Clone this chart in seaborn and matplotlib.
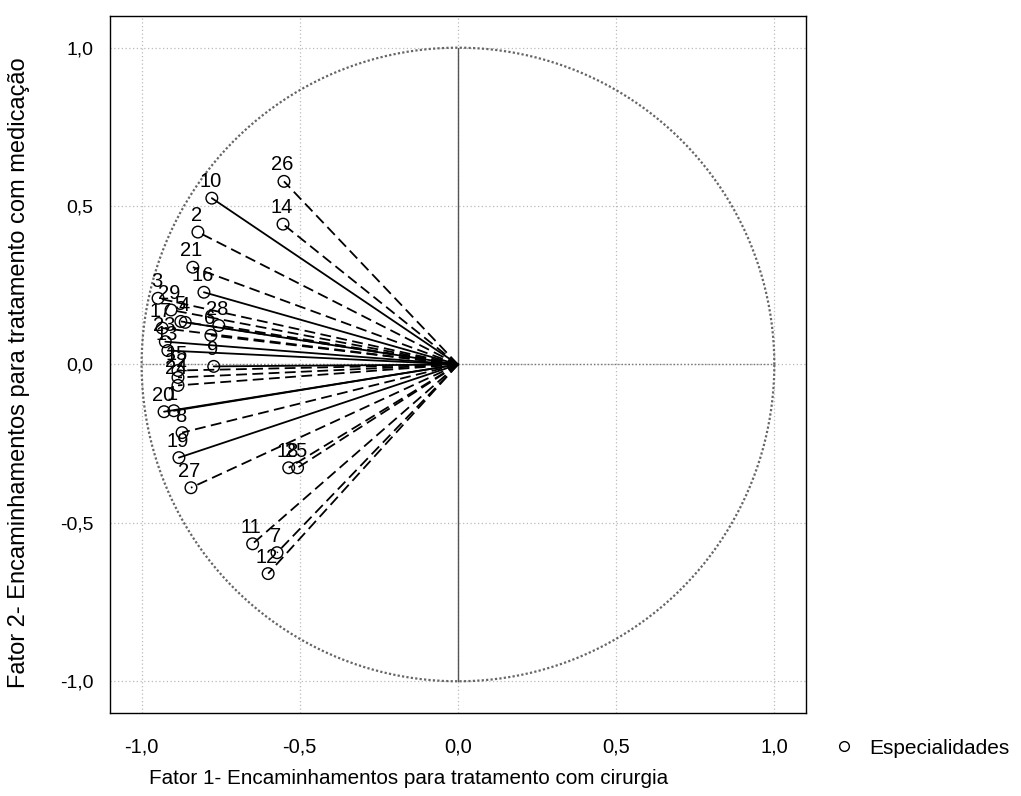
import matplotlib
matplotlib.use("Agg")
import matplotlib.pyplot as plt
import seaborn as sns
import numpy as np
import pandas as pd

# especialidades: coordenadas nos fatores 1 e 2
labels = ["1", "2", "3", "4", "5", "6", "7", "8", "9", "10",
          "11", "12", "13", "14", "15", "16", "17", "18", "19", "20",
          "21", "22", "23", "24", "25", "26", "27", "28", "29"]
fator1 = [-0.898, -0.822, -0.948, -0.862, -0.876, -0.781, -0.572, -0.872, -0.772, -0.778,
          -0.649, -0.600, -0.917, -0.553, -0.885, -0.803, -0.935, -0.535, -0.882, -0.929,
          -0.838, -0.885, -0.925, -0.885, -0.507, -0.550, -0.844, -0.756, -0.907]
fator2 = [-0.146, 0.418, 0.209, 0.133, 0.136, 0.092, -0.594, -0.215, -0.006, 0.525,
          -0.566, -0.660, 0.044, 0.443, -0.019, 0.228, 0.115, -0.326, -0.294, -0.149,
          0.307, -0.041, 0.072, -0.066, -0.326, 0.578, -0.389, 0.123, 0.172]
tracejado = [False, True, True, False, True, True, True, True, False, False,
             True, True, False, True, True, False, True, True, False, False,
             True, True, False, True, True, True, True, True, True]

ticks = [-1.0, -0.5, 0.0, 0.5, 1.0]
tick_labels = ["-1,0", "-0,5", "0,0", "0,5", "1,0"]

df = pd.DataFrame({"Fator 1": fator1, "Fator 2": fator2, "label": labels})

sns.set_style("white")
plt.rcParams["font.family"] = ["Liberation Sans", "DejaVu Sans"]
plt.rcParams["text.color"] = "black"
plt.rcParams["xtick.color"] = "black"
plt.rcParams["ytick.color"] = "black"

fig = plt.figure(figsize=(10.21, 7.96), dpi=100)
ax = fig.add_axes([0.1077, 0.1043, 0.6817, 0.8756])

# circulo unitario
t = np.linspace(0, 2 * np.pi, 400)
ax.plot(np.cos(t), np.sin(t), color="#666666", linestyle=(0, (1, 1)), linewidth=1.6, zorder=2)
ax.plot([0, 0], [-1, 1], color="#555555", linewidth=1.0, zorder=2)
ax.plot([-1, 1], [0, 0], color="#777777", linestyle=(0, (1, 1.5)), linewidth=1.0, zorder=2)

# vetores a partir da origem
for x, y, d in zip(fator1, fator2, tracejado):
    ax.plot([0, x], [0, y], color="black", linewidth=1.3,
            linestyle=(0, (6, 3)) if d else "-", zorder=3)

sns.scatterplot(data=df, x="Fator 1", y="Fator 2", ax=ax, marker="o", s=70,
                facecolors="none", edgecolor="black", linewidth=1.0, zorder=4,
                label="Especialidades", legend=False)

for x, y, lab in zip(fator1, fator2, labels):
    ax.annotate(lab, (x, y), xytext=(-1, 5), textcoords="offset points",
                ha="center", va="bottom", fontsize=14.5, zorder=5)

ax.set_xlim(-1.1, 1.1)
ax.set_ylim(-1.1, 1.1)
ax.set_xticks(ticks)
ax.set_xticklabels(tick_labels, fontsize=14.5)
ax.set_yticks(ticks)
ax.set_yticklabels(tick_labels, fontsize=14)
ax.grid(True, color="#bbbbbb", linestyle=(0, (1, 2)), linewidth=0.9)
ax.tick_params(axis="x", direction="out", length=4, width=1, pad=14)
ax.tick_params(axis="y", direction="out", length=4, width=1, pad=8)
for sp in ax.spines.values():
    sp.set_color("black")
    sp.set_linewidth(1.0)
ax.set_xlabel("")
ax.set_ylabel("")

fig.text(0.40, 0.022, "Fator 1- Encaminhamentos para tratamento com cirurgia",
         ha="center", va="center", fontsize=14.9)
fig.text(0.019, 0.532, "Fator 2- Encaminhamentos para tratamento com medicação",
         ha="center", va="center", rotation=90, fontsize=17)

# legenda fora do grafico
fig.legend(handles=[plt.Line2D([], [], marker="o", linestyle="none", markerfacecolor="none",
                               markeredgecolor="black", markersize=7)],
           labels=["Especialidades"], loc="center left", bbox_to_anchor=(0.796, 0.060),
           frameon=False, fontsize=15, handletextpad=0.6, handlelength=1.2)

fig.savefig("out.png", dpi=100)
plt.close(fig)
